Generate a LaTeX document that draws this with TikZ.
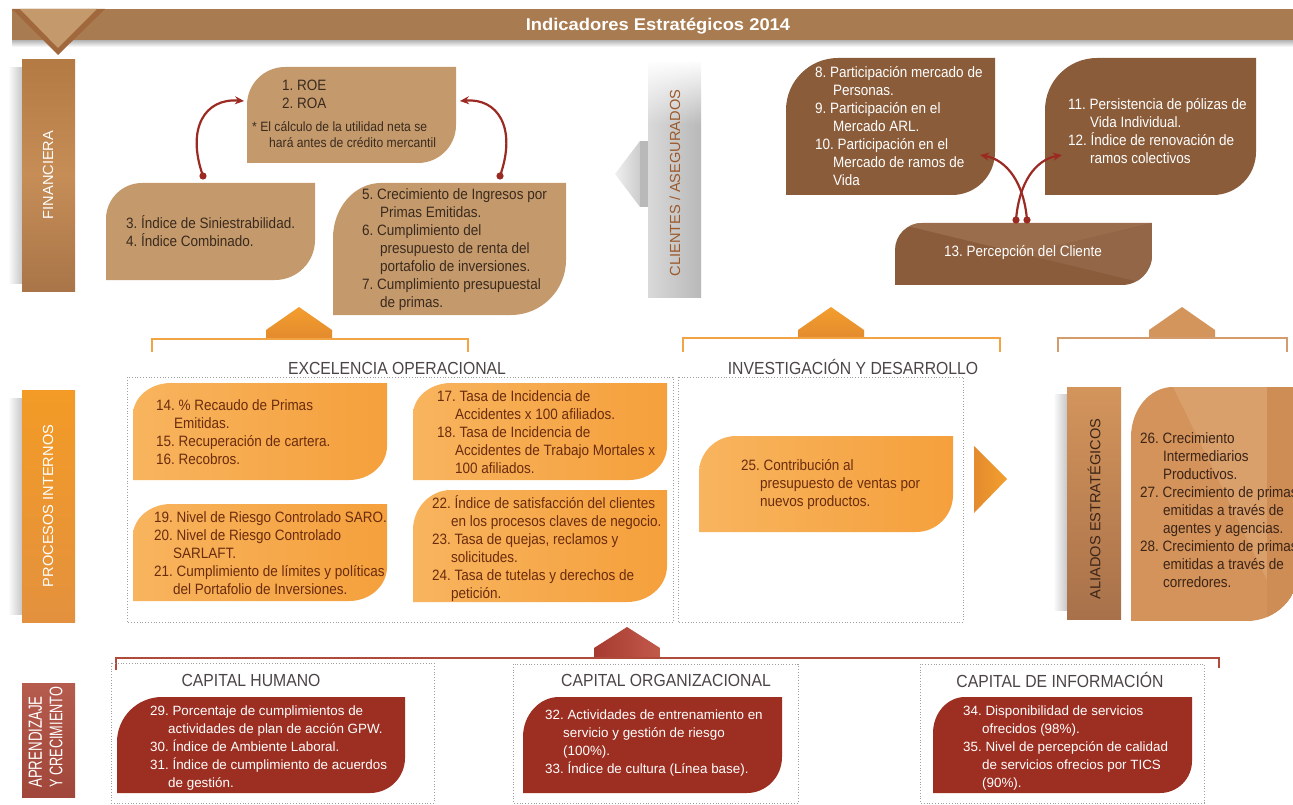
\documentclass[tikz,border=0pt]{standalone}
\usepackage{fontspec}
\setmainfont{Liberation Sans}
\newfontfamily\cf[FakeStretch=0.9]{Liberation Sans}
\newfontfamily\wf[FakeStretch=1.08]{Liberation Sans}
\newfontfamily\nf[FakeStretch=0.7]{Liberation Sans}
\usetikzlibrary{arrows.meta,fadings}
\definecolor{hdr}{HTML}{A97B50}
\definecolor{trid}{HTML}{A0683C}
\definecolor{tril}{HTML}{C49A6C}
\definecolor{finT}{HTML}{B47A44}
\definecolor{finM}{HTML}{C68D57}
\definecolor{finB}{HTML}{A97548}
\definecolor{finbox}{HTML}{C49A6C}
\definecolor{fintxt}{HTML}{3A2A1E}
\definecolor{cli}{HTML}{8A5C3A}
\definecolor{cliD}{HTML}{8B5C3B}
\definecolor{cliL}{HTML}{9A6E4D}
\definecolor{cliM}{HTML}{936647}
\definecolor{arrred}{HTML}{9B2A22}
\definecolor{proT}{HTML}{F39B26}
\definecolor{proB}{HTML}{E3913E}
\definecolor{proL}{HTML}{F8B45E}
\definecolor{proR}{HTML}{F5A03C}
\definecolor{protxt}{HTML}{6B2C0E}
\definecolor{pentT}{HTML}{F39E2E}
\definecolor{pentB}{HTML}{E38B2E}
\definecolor{brk}{HTML}{F2A444}
\definecolor{pentR}{HTML}{D4955C}
\definecolor{brkR}{HTML}{D49C6C}
\definecolor{aliT}{HTML}{D4955C}
\definecolor{aliB}{HTML}{A8714A}
\definecolor{alibox}{HTML}{D3935A}
\definecolor{aliL}{HTML}{D9A06C}
\definecolor{aliD}{HTML}{CE8D55}
\definecolor{alitxt}{HTML}{3B2417}
\definecolor{lrnT}{HTML}{B65C4E}
\definecolor{lrnB}{HTML}{A0463A}
\definecolor{redbox}{HTML}{9C2F22}
\definecolor{rpL}{HTML}{A63A30}
\definecolor{rpR}{HTML}{C25A4C}
\definecolor{redbrk}{HTML}{B04A3A}
\definecolor{ttl}{HTML}{4D4545}
\definecolor{dotc}{HTML}{A0A0A0}
\definecolor{clitxt}{HTML}{9C5A2C}
\tikzfading[name=whitetop, top color=transparent!0, bottom color=transparent!100]
% leaf shape: style, x1,y1,x2,y2, top-left rx,ry, bottom-right rx,ry
\newcommand\leafbox[9]{\path[#1] (#2,#3+#7) .. controls (#2,#3+0.448*#7) and (#2+0.448*#6,#3) .. (#2+#6,#3) -- (#4,#3) -- (#4,#5-#9) .. controls (#4,#5-0.448*#9) and (#4-0.448*#8,#5) .. (#4-#8,#5) -- (#2,#5) -- cycle;}
\begin{document}
\frenchspacing
\begin{tikzpicture}[x=1pt,y=-1pt,
  body/.style={anchor=north west, inner sep=0pt, align=left, font=\cf\fontsize{15}{18}\selectfont, execute at begin node=\strut},
  note/.style={anchor=north west, inner sep=0pt, align=left, font=\cf\fontsize{13.5}{16}\selectfont, execute at begin node=\strut},
  redtxt/.style={anchor=north west, inner sep=0pt, align=left, font=\fontsize{13.4}{18}\selectfont, text=white, execute at begin node=\strut},
  secttl/.style={font=\cf\fontsize{17.5}{20}\selectfont, text=ttl, inner sep=0pt},
  vlab/.style={rotate=90, font=\fontsize{14.6}{17}\selectfont, inner sep=0pt},
  lrnlab/.style={rotate=90, anchor=west, text=white, inner sep=0pt},
  dotbox/.style={draw=dotc, dotted, line width=0.8pt},
  bracket/.style={draw=brk, line width=1.3pt},
  redarrow/.style={draw=arrred, line width=2.2pt, -{Stealth[length=9pt,width=8pt]}},
  dotmark/.style={fill=arrred},
  shadowL/.style={left color=white, right color=black!22}
]
\useasboundingbox (0,0) rectangle (1293,805);
\fill[white] (0,0) rectangle (1293,805);
\begin{scope}
\clip (0,0) rectangle (1293,805);

% ---------- header ----------
\shade[top color=black!30, bottom color=white] (12,40) rectangle (1293,47);
\fill[hdr] (12,9) rectangle (1293,40);
\fill[trid] (12,9) -- (105,9) -- (58,55) -- cycle;
\fill[tril] (20,9) -- (97,9) -- (58,48) -- cycle;
\node[font=\wf\bfseries\fontsize{17}{20}\selectfont, text=white, inner sep=0pt] (title) at (658,26) {Indicadores Estratégicos 2014};

% ---------- side labels ----------
\shade[shadowL] (8,68) rectangle (22,283);
\shade[top color=finT, bottom color=finB, middle color=finM] (22,60) rectangle (75,291);
\node[vlab, text=white] (lfin) at (48,175) {FINANCIERA};

\shade[shadowL] (8,398) rectangle (22,614);
\shade[top color=proT, bottom color=proB] (22,390) rectangle (75,622);
\node[vlab, text=white] (lpro) at (48,506) {PROCESOS INTERNOS};

\shade[top color=lrnT, bottom color=lrnB] (22,683) rectangle (75,797);
\node[lrnlab, font=\nf\fontsize{19}{20}\selectfont] (llrn1) at (35.5,788) {APRENDIZAJE};
\node[lrnlab, font=\nf\fontsize{18.2}{20}\selectfont] (llrn2) at (56,788) {Y CRECIMIENTO};

% ---------- financial ----------
\leafbox{fill=finbox}{247}{67}{456}{163}{38}{38}{38}{38}
\leafbox{fill=finbox}{106}{183}{315}{280}{36}{36}{40}{40}
\leafbox{fill=finbox}{333}{183}{566}{315}{48}{55}{55}{55}
\node[body, text=fintxt] (roe) at (282,80) {1. ROE\\2. ROA};
\node[note, text=fintxt] (roenote) at (252,121) {* El cálculo de la utilidad neta se\\\hspace*{17pt}hará antes de crédito mercantil};
\node[body, text=fintxt] (b34) at (126,215) {3. Índice de Siniestrabilidad.\\4. Índice Combinado.};
\node[body, text=fintxt] (b57) at (362,188) {5. Crecimiento de Ingresos por\\\hspace*{18pt}Primas Emitidas.\\6. Cumplimiento del\\\hspace*{18pt}presupuesto de renta del\\\hspace*{18pt}portafolio de inversiones.\\7. Cumplimiento presupuestal\\\hspace*{18pt}de primas.};

\coordinate (d1) at (203,176);
\coordinate (t1) at (244,101);
\coordinate (d2) at (500,176);
\coordinate (t2) at (460,101);
\draw[redarrow] (d1) .. controls (186,128) and (205,98) .. (t1);
\draw[redarrow] (d2) .. controls (517,128) and (498,98) .. (t2);
\fill[dotmark] (d1) circle[radius=3.6];
\fill[dotmark] (d2) circle[radius=3.6];

% ---------- clientes ----------
\shade[left color=gray!30, middle color=white, right color=gray!55] (648,63) rectangle (701,297);
\fill[white, path fading=whitetop] (645,60) rectangle (704,125);
\shade[left color=gray!12, right color=gray!40] (615,174) -- (640,141) -- (640,207) -- cycle;
\fill[gray!55] (640,141) rectangle (648,207);
\node[vlab, text=clitxt] (lcli) at (675,183) {CLIENTES / ASEGURADOS};

\leafbox{fill=cli}{786}{58}{995}{195}{52}{52}{43}{43}
\leafbox{fill=cli}{1045}{58}{1256}{195}{52}{52}{43}{43}
\begin{scope}
\leafbox{clip}{895}{223}{1152}{285}{27}{27}{30}{30}
\fill[cliD] (895,223) rectangle (1152,285);
\fill[cliL] (895,223) -- (1152,223) -- (1023,254) -- cycle;
\fill[cliM] (1152,223) -- (1023,254) -- (1152,285) -- cycle;
\end{scope}
\node[body, text=white] (b810) at (815,66) {8. Participación mercado de\\\hspace*{18pt}Personas.\\9. Participación en el\\\hspace*{18pt}Mercado ARL.\\10. Participación en el\\\hspace*{18pt}Mercado de ramos de\\\hspace*{18pt}Vida};
\node[body, text=white] (b1112) at (1068,98) {11. Persistencia de pólizas de\\\hspace*{22pt}Vida Individual.\\12. Índice de renovación de\\\hspace*{22pt}ramos colectivos};
\node[font=\cf\fontsize{15}{18}\selectfont, text=white, inner sep=0pt] (b13) at (1023,253) {13. Percepción del Cliente};

\coordinate (c1) at (1016,220);
\coordinate (c2) at (1027,220);
\coordinate (ct1) at (1062,155);
\coordinate (ct2) at (980,155);
\draw[redarrow] (c1) .. controls (1019,183) and (1035,160) .. (ct1);
\draw[redarrow] (c2) .. controls (1024,183) and (1007,160) .. (ct2);
\fill[dotmark] (c1) circle[radius=3.6];
\fill[dotmark] (c2) circle[radius=3.6];

% ---------- pentagons and brackets ----------
\shade[top color=pentT, bottom color=pentB] (266,338) -- (266,330) -- (299,307) -- (332,330) -- (332,338) -- cycle;
\shade[top color=pentT, bottom color=pentB] (798,338) -- (798,330) -- (831,307) -- (864,330) -- (864,338) -- cycle;
\fill[pentR] (1149,338) -- (1149,330) -- (1182,307) -- (1215,330) -- (1215,338) -- cycle;
\draw[bracket] (152,352) -- (152,339) -- (468,339) -- (468,352);
\draw[bracket] (683,352) -- (683,338) -- (1000,338) -- (1000,352);
\draw[bracket, draw=brkR] (1058,352) -- (1058,338) -- (1287,338) -- (1287,352);

% ---------- procesos internos ----------
\node[secttl] (texc) at (397,368) {EXCELENCIA OPERACIONAL};
\node[secttl] (tid) at (853,367) {INVESTIGACIÓN Y DESARROLLO};
\draw[dotbox] (127,377) rectangle (673,622);
\draw[dotbox] (678,377) rectangle (963,622);

\leafbox{left color=proL, right color=proR}{133}{383}{387}{480}{38}{32}{38}{34}
\leafbox{left color=proL, right color=proR}{413}{383}{667}{480}{38}{32}{38}{34}
\leafbox{left color=proL, right color=proR}{133}{504}{387}{601}{38}{32}{38}{34}
\leafbox{left color=proL, right color=proR}{413}{490}{667}{602}{38}{40}{40}{36}
\node[body, text=protxt] (b1416) at (156,399) {14. \% Recaudo de Primas\\\hspace*{18pt}Emitidas.\\15. Recuperación de cartera.\\16. Recobros.};
\node[body, text=protxt] (b1718) at (437,390) {17. Tasa de Incidencia de\\\hspace*{18pt}Accidentes x 100 afiliados.\\18. Tasa de Incidencia de\\\hspace*{18pt}Accidentes de Trabajo Mortales x\\\hspace*{18pt}100 afiliados.};
\node[body, text=protxt] (b1921) at (154,511) {19. Nivel de Riesgo Controlado SARO.\\20. Nivel de Riesgo Controlado\\\hspace*{19pt}SARLAFT.\\21. Cumplimiento de límites y políticas\\\hspace*{19pt}del Portafolio de Inversiones.};
\node[body, text=protxt] (b2224) at (432,495) {22. Índice de satisfacción del clientes\\\hspace*{19pt}en los procesos claves de negocio.\\23. Tasa de quejas, reclamos y\\\hspace*{19pt}solicitudes.\\24. Tasa de tutelas y derechos de\\\hspace*{19pt}petición.};

\leafbox{left color=proL, right color=proR}{699}{436}{953}{532}{37}{37}{37}{37}
\node[body, text=protxt] (b25) at (741,459) {25. Contribución al\\\hspace*{19pt}presupuesto de ventas por\\\hspace*{19pt}nuevos productos.};
\shade[left color=pentB, right color=pentT] (974,446) -- (1007,479) -- (974,513) -- cycle;

% ---------- aliados ----------
\shade[shadowL] (1053,394) rectangle (1067,610);
\shade[top color=aliT, bottom color=aliB] (1067,387) rectangle (1121,619);
\node[vlab, text=alitxt] (lali) at (1094,509) {ALIADOS ESTRATÉGICOS};
\begin{scope}
\leafbox{clip}{1131}{387}{1299}{621}{42}{50}{52}{52}
\fill[alibox] (1131,387) rectangle (1299,621);
\fill[aliL] (1173,387) -- (1267,387) -- (1267,580) -- cycle;
\fill[aliD] (1267,387) rectangle (1299,621);
\end{scope}
\node[body, text=alitxt] (b2628) at (1140,432) {26. Crecimiento\\\hspace*{23pt}Intermediarios\\\hspace*{23pt}Productivos.\\27. Crecimiento de primas\\\hspace*{23pt}emitidas a través de\\\hspace*{23pt}agentes y agencias.\\28. Crecimiento de primas\\\hspace*{23pt}emitidas a través de\\\hspace*{23pt}corredores.};

% ---------- aprendizaje ----------
\shade[left color=rpL, right color=rpR] (594,658) -- (594,648) -- (627,627) -- (660,648) -- (660,658) -- cycle;
\draw[draw=redbrk, line width=1.5pt] (116,670) -- (116,658) -- (1219,658) -- (1219,668);
\draw[dotbox] (111,663) rectangle (434,803);
\draw[dotbox] (513,664) rectangle (798,803);
\draw[dotbox] (920,664) rectangle (1204,803);
\node[secttl] (tch) at (251,680) {CAPITAL HUMANO};
\node[secttl] (tco) at (666,680) {CAPITAL ORGANIZACIONAL};
\node[secttl] (tci) at (1060,680) {CAPITAL DE INFORMACIÓN};
\leafbox{fill=redbox}{117}{697}{405}{793}{45}{45}{35}{35}
\leafbox{fill=redbox}{523}{697}{782}{793}{36}{40}{35}{36}
\leafbox{fill=redbox}{933}{697}{1192}{793}{32}{36}{32}{32}
\node[redtxt] (bch) at (150,706) {29. Porcentaje de cumplimientos de\\\hspace*{18pt}actividades de plan de acción GPW.\\30. Índice de Ambiente Laboral.\\31. Índice de cumplimiento de acuerdos\\\hspace*{18pt}de gestión.};
\node[redtxt] (bco) at (545,710) {32. Actividades de entrenamiento en\\\hspace*{18pt}servicio y gestión de riesgo\\\hspace*{18pt}(100\%).\\33. Índice de cultura (Línea base).};
\node[redtxt] (bci) at (963,706) {34. Disponibilidad de servicios\\\hspace*{19pt}ofrecidos (98\%).\\35. Nivel de percepción de calidad\\\hspace*{19pt}de servicios ofrecios por TICS\\\hspace*{19pt}(90\%).};
\end{scope}
\end{tikzpicture}
\end{document}
